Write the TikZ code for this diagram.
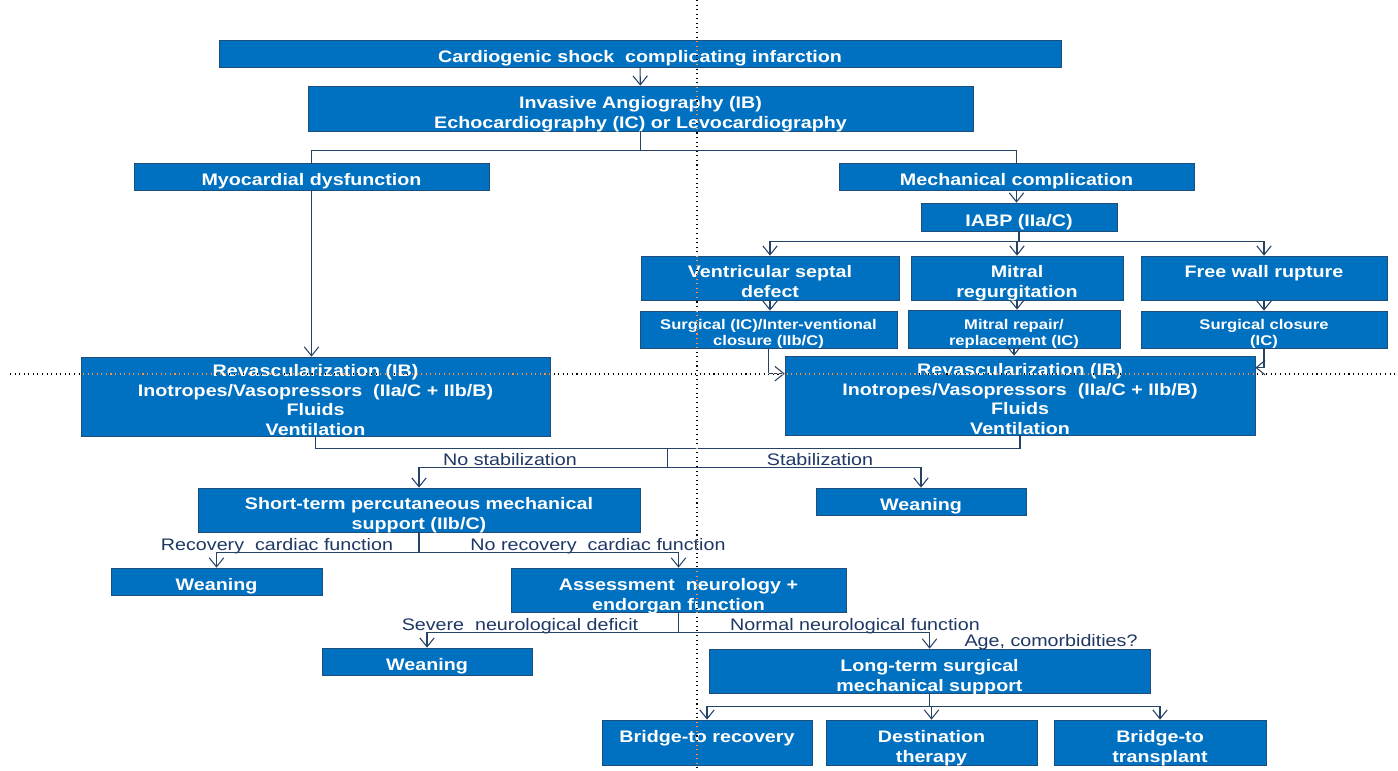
\documentclass[tikz,border=0pt]{standalone}
\usepackage{fontspec}
\setmainfont{Liberation Sans}[FakeStretch=1.18]
\usepackage{xcolor}
\usepackage{tikz}
\usetikzlibrary{shapes,arrows.meta,calc}
\definecolor{boxblue}{RGB}{0,112,192}
\definecolor{boxedge}{RGB}{30,78,121}
\definecolor{wire}{RGB}{38,66,102}
\definecolor{notetext}{RGB}{31,56,100}
\tikzstyle{basebox} = [rectangle, draw=boxedge, fill=boxblue, text=white,
    align=center, inner sep=0pt, text depth=0pt]
\tikzset{
    block/.style={basebox, font=\fontsize{9.5}{11.3}\selectfont\bfseries, text height=#1},
    block/.default=10.4pt,
    subblock/.style={basebox, font=\fontsize{8}{9}\selectfont\bfseries, text height=#1},
    subblock/.default=17.8pt
}
\tikzstyle{link} = [draw=wire, line width=0.6pt]
\tikzstyle{line} = [link, -{Straight Barb[length=1.8mm,width=2.9mm]}]
\tikzstyle{cond} = [text=notetext, inner sep=0pt, font=\fontsize{9.5}{11.3}\selectfont]
\tikzstyle{guide} = [draw=white, dotted, line width=0.6pt, blend mode=difference]

\begin{document}
\begin{tikzpicture}[x=0.02cm, y=-0.02cm]
        \useasboundingbox (0,0) rectangle (1398,770);
        \fill [white] (0,0) rectangle (1398,770);
        % Components
        \node [block, minimum width=16.84cm, minimum height=0.54cm] (shock) at (640,53.5) {Cardiogenic shock\ \ complicating infarction};
        \node [block=23pt, minimum width=13.30cm, minimum height=0.90cm] (angio) at (640.5,108.5) {Invasive Angiography (IB)\\Echocardiography (IC) or Levocardiography};
        \node [block, minimum width=7.10cm, minimum height=0.54cm] (myo) at (311.5,176.5) {Myocardial dysfunction};
        \node [block, minimum width=7.10cm, minimum height=0.54cm] (mech) at (1016.5,176.5) {Mechanical complication};
        \node [block, minimum width=3.92cm, minimum height=0.56cm] (iabp) at (1019,217) {IABP (IIa/C)};
        \node [block=22.5pt, minimum width=5.16cm, minimum height=0.88cm] (vsd) at (770,278) {Ventricular septal\\defect};
        \node [block=22pt, minimum width=4.24cm, minimum height=0.88cm] (mr) at (1017,278) {Mitral\\regurgitation};
        \node [block=21.8pt, minimum width=4.92cm, minimum height=0.88cm] (fwr) at (1264,278) {Free wall rupture\\\mbox{}};
        \node [subblock, minimum width=5.14cm, minimum height=0.74cm] (vsdfix) at (768.5,329.5) {Surgical (IC)/Inter-ventional\\closure (IIb/C)};
        \node [subblock=18.4pt, minimum width=4.24cm, minimum height=0.76cm] (mrfix) at (1014,329) {Mitral repair/\\replacement (IC)};
        \node [subblock, minimum width=4.92cm, minimum height=0.74cm] (fwrfix) at (1264,329.5) {Surgical closure\\(IC)};
        \node [block=44.7pt, minimum width=9.38cm, minimum height=1.58cm] (revL) at (315.5,396.5) {Revascularization (IB)\\Inotropes/Vasopressors\ \ (IIa/C + IIb/B)\\Fluids\\Ventilation};
        \node [block=44.7pt, minimum width=9.40cm, minimum height=1.58cm] (revR) at (1020,395.5) {Revascularization (IB)\\Inotropes/Vasopressors\ \ (IIa/C + IIb/B)\\Fluids\\Ventilation};
        \node [block=22pt, minimum width=8.84cm, minimum height=0.88cm] (pms) at (419,510) {Short-term percutaneous mechanical\\support (IIb/C)};
        \node [block, minimum width=4.20cm, minimum height=0.54cm] (weanA) at (921,501.5) {Weaning};
        \node [block, minimum width=4.22cm, minimum height=0.54cm] (weanB) at (216.5,581.5) {Weaning};
        \node [block=23pt, minimum width=6.70cm, minimum height=0.88cm] (neuro) at (678.5,590) {Assessment\ \ neurology +\\endorgan function};
        \node [block, minimum width=4.20cm, minimum height=0.54cm] (weanC) at (427,661.5) {Weaning};
        \node [block=23pt, minimum width=8.82cm, minimum height=0.88cm] (lvad) at (929.5,671) {Long-term surgical\\mechanical support};
        \node [block=23pt, minimum width=4.20cm, minimum height=0.90cm] (btr) at (707,742.5) {Bridge-to recovery\\\mbox{}};
        \node [block=23pt, minimum width=4.22cm, minimum height=0.90cm] (dt) at (931.5,742.5) {Destination\\therapy};
        \node [block=23pt, minimum width=4.24cm, minimum height=0.90cm] (btt) at (1160,742.5) {Bridge-to\\transplant};

        % Branch labels
        \node [cond] (noStab) at (510,460) {No stabilization};
        \node [cond] (stab) at (820,460) {Stabilization};
        \node [cond] (rec) at (277,546) {Recovery\ \ cardiac function};
        \node [cond] (noRec) at (598,546) {No recovery\ \ cardiac function};
        \node [cond] (severe) at (520,626) {Severe\ \ neurological deficit};
        \node [cond] (normal) at (855,626) {Normal neurological function};
        \node [cond] (age) at (1051,642) {Age, comorbidities?};

        % Connections
        \path [line] (shock) -- (angio);
        \path [link] (angio.south) -- ++(0,19) coordinate (fork1) -| (myo.north);
        \path [link] (fork1) -| (mech.north);
        \path [line] (myo) -- (myo |- revL.north);
        \path [line] (mech) -- (mech |- iabp.north);
        \path [link] (iabp.south) -- ++(0,10) coordinate (fork2);
        \path [line] (fork2) -| (vsd.north);
        \path [line] (fork2) -| (mr.north);
        \path [line] (fork2) -| (fwr.north);
        \path [line] (vsd) -- (vsd |- vsdfix.north);
        \path [line] (mr) -- (mr |- mrfix.north);
        \path [line] (fwr) -- (fwr |- fwrfix.north);
        \path [line] (vsdfix.south) |- ($(revR.north west)+(0,18)$);
        \path [line] (mrfix) -- (mrfix |- revR.north);
        \path [line] (fwrfix.south) |- ($(revR.north east)+(0,12)$);
        \path [link] (revL.south) -- ++(0,12) coordinate (joinL) -| (revR.south);
        \coordinate (join1) at ($(joinL)!0.5!(joinL -| revR.south)$);
        \path [link] (join1) -- ++(0,19) coordinate (fork3);
        \path [line] (fork3) -| (pms.north);
        \path [line] (fork3) -| (weanA.north);
        \path [link] (pms.south) -- ++(0,20) coordinate (fork4);
        \path [line] (fork4) -| (weanB.north);
        \path [line] (fork4) -| (neuro.north);
        \path [link] (neuro.south) -- ++(0,20) coordinate (fork5);
        \path [line] (fork5) -| (weanC.north);
        \path [line] (fork5) -| (lvad.north);
        \path [link] (lvad.south) -- ++(0,13) coordinate (fork6);
        \path [line] (fork6) -| (btr.north);
        \path [line] (fork6) -| (dt.north);
        \path [line] (fork6) -| (btt.north);

        % Guide lines
        \draw [guide] (697,0) -- (697,770);
        \draw [guide] (10,374) -- (1398,374);
    \end{tikzpicture}
\end{document}
